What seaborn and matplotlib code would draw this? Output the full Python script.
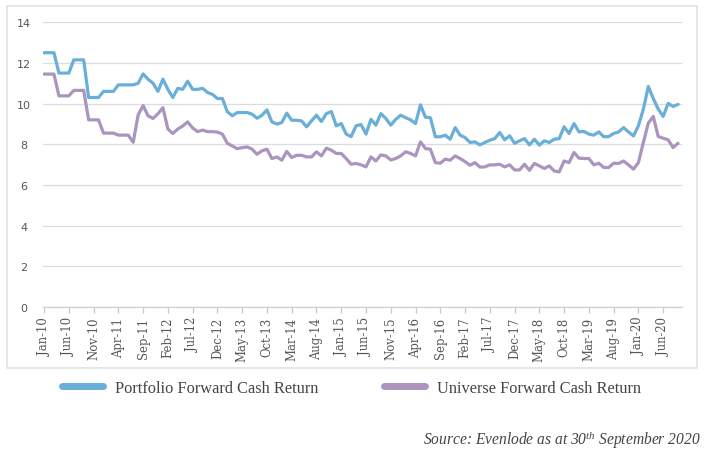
import numpy as np
import pandas as pd
import matplotlib
matplotlib.use("Agg")
import matplotlib.pyplot as plt
from matplotlib.patches import Rectangle
from matplotlib.lines import Line2D
import seaborn as sns

# ---- data ----
tick_labels = ["Jan-10", "Jun-10", "Nov-10", "Apr-11", "Sep-11", "Feb-12", "Jul-12",
               "Dec-12", "May-13", "Oct-13", "Mar-14", "Aug-14", "Jan-15", "Jun-15",
               "Nov-15", "Apr-16", "Sep-16", "Feb-17", "Jul-17", "Dec-17", "May-18",
               "Oct-18", "Mar-19", "Aug-19", "Jan-20", "Jun-20"]

portfolio = [12.5, 12.5, 12.5, 11.5, 11.5, 11.5, 12.15, 12.15, 12.15, 10.3,
             10.3, 10.3, 10.6, 10.6, 10.6, 10.92, 10.92, 10.92, 10.92, 11.0,
             11.46, 11.2, 11.0, 10.6, 11.2, 10.7, 10.3, 10.75, 10.7, 11.1,
             10.7, 10.7, 10.75, 10.55, 10.45, 10.25, 10.25, 9.6, 9.4, 9.56,
             9.56, 9.56, 9.48, 9.28, 9.43, 9.69, 9.1, 8.99, 9.07, 9.53,
             9.18, 9.18, 9.15, 8.86, 9.15, 9.43, 9.12, 9.51, 9.61, 8.91,
             9.02, 8.5, 8.38, 8.91, 8.97, 8.5, 9.23, 8.94, 9.51, 9.27,
             8.94, 9.23, 9.43, 9.31, 9.2, 9.02, 9.94, 9.33, 9.31, 8.37,
             8.37, 8.45, 8.25, 8.82, 8.45, 8.33, 8.09, 8.12, 7.97, 8.09,
             8.2, 8.28, 8.58, 8.22, 8.42, 8.05, 8.17, 8.28, 7.97, 8.25,
             7.96, 8.17, 8.09, 8.25, 8.28, 8.86, 8.53, 9.02, 8.61, 8.63,
             8.5, 8.45, 8.61, 8.37, 8.38, 8.53, 8.61, 8.82, 8.61, 8.41,
             8.91, 9.73, 10.84, 10.25, 9.73, 9.37, 10.01, 9.86, 9.96]

universe = [11.45, 11.45, 11.45, 10.38, 10.38, 10.38, 10.65, 10.65, 10.65, 9.2,
            9.2, 9.2, 8.55, 8.55, 8.55, 8.45, 8.45, 8.45, 8.1, 9.45,
            9.9, 9.4, 9.27, 9.5, 9.8, 8.75, 8.53, 8.75, 8.9, 9.1,
            8.8, 8.62, 8.7, 8.62, 8.62, 8.6, 8.5, 8.05, 7.92, 7.78,
            7.84, 7.87, 7.76, 7.51, 7.68, 7.76, 7.3, 7.38, 7.22, 7.65,
            7.35, 7.46, 7.46, 7.38, 7.38, 7.63, 7.43, 7.81, 7.71, 7.55,
            7.55, 7.3, 7.02, 7.06, 6.99, 6.89, 7.38, 7.18, 7.48, 7.43,
            7.23, 7.3, 7.43, 7.63, 7.55, 7.43, 8.12, 7.79, 7.76, 7.1,
            7.07, 7.27, 7.22, 7.43, 7.3, 7.15, 6.97, 7.1, 6.88, 6.89,
            6.99, 6.99, 7.02, 6.89, 6.99, 6.74, 6.74, 7.02, 6.72, 7.06,
            6.94, 6.81, 6.94, 6.69, 6.64, 7.18, 7.1, 7.6, 7.32, 7.3,
            7.3, 6.99, 7.07, 6.86, 6.86, 7.07, 7.06, 7.18, 6.99, 6.78,
            7.1, 8.09, 9.04, 9.37, 8.38, 8.3, 8.22, 7.84, 8.05]

series_names = ["Portfolio Forward Cash Return", "Universe Forward Cash Return"]
colors = ["#6aafd8", "#ab94bd"]

n = len(portfolio)
month_idx = np.arange(n)
df = pd.DataFrame({
    "month": np.concatenate([month_idx, month_idx]),
    "value": portfolio + universe,
    "series": [series_names[0]] * n + [series_names[1]] * n,
})

sns.set_theme(style="white")
plt.rcParams["font.family"] = ["DejaVu Serif", "DejaVu Sans"]
plt.rcParams["mathtext.fontset"] = "custom"
plt.rcParams["mathtext.it"] = "Liberation Serif:italic"
plt.rcParams["mathtext.rm"] = "Liberation Serif:italic"

fig = plt.figure(figsize=(7.06, 4.64), dpi=100)
ax = fig.add_axes([0.061, 0.336, 0.905, 0.614])

sns.lineplot(data=df, x="month", y="value", hue="series", palette=colors,
             linewidth=2.3, ax=ax, legend=False)

ax.set_xlim(-0.2, 128.8)
ax.set_ylim(0, 14)
ax.set_yticks(np.arange(0, 15, 2))
ax.set_yticklabels([str(v) for v in range(0, 15, 2)], color="#555555", fontsize=8,
                   family="DejaVu Sans")
ax.set_xticks(np.arange(0, 5 * len(tick_labels), 5))
ax.set_xticklabels(tick_labels, rotation=90, color="#555555", fontsize=8.4,
                   family="DejaVu Serif")
ax.set_xlabel("")
ax.set_ylabel("")
ax.yaxis.grid(True, color="#dcdcdc", linewidth=0.9)
ax.xaxis.grid(False)
for s in ["top", "right", "left"]:
    ax.spines[s].set_visible(False)
ax.spines["bottom"].set_color("#d0d0d0")
ax.spines["bottom"].set_linewidth(0.9)
ax.tick_params(axis="x", length=4, color="#c8c8c8", width=0.9, pad=3, bottom=True)
ax.tick_params(axis="y", length=0, pad=14)
for lbl in ax.get_yticklabels():
    lbl.set_horizontalalignment("center")

# outer frame
fig.patches.append(Rectangle((7 / 706, 1 - 369 / 464), 690 / 706, 362 / 464,
                             transform=fig.transFigure, fill=False,
                             edgecolor="#e2e2e2", linewidth=1.2))

# legend
handles = [Line2D([0], [0], color=c, linewidth=5, solid_capstyle="round") for c in colors]
leg = fig.legend(handles, series_names, loc="center", bbox_to_anchor=(0.498, 1 - 389 / 464),
                 ncol=2, frameon=False, handlelength=2.5, columnspacing=4.0,
                 handletextpad=0.75, prop={"family": "Liberation Serif", "size": 11.8})
for t in leg.get_texts():
    t.set_color("#444444")

fig.text(0.992, 1 - 440 / 464, "Source: Evenlode as at 30$^{th}$ September 2020",
         ha="right", va="center", fontsize=11.2, color="#444444",
         family="Liberation Serif", style="italic")

fig.savefig("out.png", dpi=100)
